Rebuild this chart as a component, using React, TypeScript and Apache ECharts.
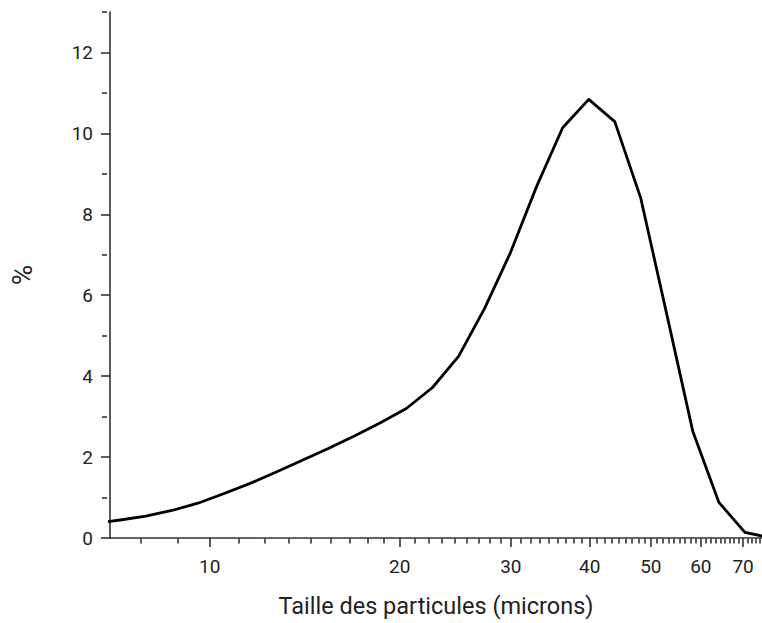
import React, { useEffect, useRef } from "react";
import * as echarts from "echarts";

// Particle size bins (microns) and volume percentage
const sizes = [6.55, 7.21, 7.92, 8.71, 9.58, 10.54, 11.59, 12.75, 14.02, 15.41, 16.95, 18.64, 20.49, 22.54, 24.79, 27.25, 29.97, 32.96, 36.24, 39.86, 43.83, 48.19, 53.0, 58.28, 64.09, 70.47, 77.5];
const percent = [0.36, 0.445, 0.54, 0.68, 0.86, 1.1, 1.35, 1.63, 1.92, 2.21, 2.52, 2.85, 3.2, 3.72, 4.49, 5.67, 7.06, 8.69, 10.14, 10.84, 10.29, 8.4, 5.52, 2.63, 0.88, 0.14, 0.0];

// Axis ticks
const xMajorTicks = [10, 20, 30, 40, 50, 60, 70];
const xMin = 6.95;
const xMax = 75;
const yMajorTicks = [0, 2, 4, 6, 8, 10, 12];
const yMinorTicks = [1, 3, 5, 7, 9, 11, 13];

const xTitle = "Taille des particules (microns)";
const yTitle = "%";

function minorX(): number[] {
  const out: number[] = [];
  const majors = [0, ...xMajorTicks, 80];
  for (let i = 0; i < majors.length - 1; i++) {
    const a = majors[i];
    const b = majors[i + 1];
    for (let k = 1; k <= 8; k++) {
      const v = a + ((b - a) * k) / 9;
      if (v > xMin && v < xMax) out.push(v);
    }
  }
  return out;
}

const W = 762;
const H = 623;
const GRID = { left: 107, right: 0, top: 12, bottom: 84.5 };

export default function App() {
  const ref = useRef<HTMLDivElement>(null);
  useEffect(() => {
    if (!ref.current) return;
    const chart = echarts.init(ref.current, undefined, { renderer: "svg" });
    const font = "Roboto, 'Noto Sans', sans-serif";
    const lg = (v: number) => Math.log10(v);
    const axisColor = "#333";
    const textColor = "#222";
    const gridW = W - GRID.left - GRID.right;
    const gridH = H - GRID.top - GRID.bottom;
    chart.setOption({
      animation: false,
      backgroundColor: "#fff",
      grid: { ...GRID, containLabel: false },
      xAxis: [
        {
          type: "value",
          min: lg(xMin),
          max: lg(xMax),
          position: "bottom",
          axisLine: { show: true, onZero: false, lineStyle: { color: axisColor, width: 1.6 } },
          axisTick: {
            show: true,
            customValues: xMajorTicks.map(lg),
            length: 9,
            lineStyle: { color: axisColor, width: 1.6 },
          },
          axisLabel: {
            show: true,
            customValues: xMajorTicks.map(lg),
            formatter: (v: number) => String(Math.round(Math.pow(10, v))),
            margin: 19,
            fontSize: 19,
            color: textColor,
            fontFamily: font,
          },
          splitLine: { show: false },
          name: xTitle,
          nameLocation: "middle",
          nameGap: 56,
          nameTextStyle: { fontSize: 23.5, color: textColor, fontFamily: font },
        },
        {
          // minor ticks: placed on top slot, moved down onto the bottom line
          type: "value",
          min: lg(xMin),
          max: lg(xMax),
          position: "top",
          offset: -gridH,
          axisLine: { show: false, onZero: false },
          axisTick: {
            show: true,
            inside: true,
            customValues: minorX().map(lg),
            length: 5,
            lineStyle: { color: axisColor, width: 1.6 },
          },
          axisLabel: { show: false },
          splitLine: { show: false },
        },
      ],
      yAxis: [
        {
          type: "value",
          min: 0,
          max: 13,
          interval: 2,
          position: "left",
          axisLine: { show: true, onZero: false, lineStyle: { color: axisColor, width: 1.6 } },
          axisTick: {
            show: true,
            customValues: yMajorTicks,
            length: 9,
            lineStyle: { color: axisColor, width: 1.6 },
          },
          axisLabel: {
            show: true,
            customValues: yMajorTicks,
            margin: 17,
            fontSize: 19,
            color: textColor,
            fontFamily: font,
          },
          splitLine: { show: false },
          name: yTitle,
          nameLocation: "middle",
          nameGap: 74,
          nameTextStyle: { fontSize: 28, color: textColor, fontFamily: font },
        },
        {
          type: "value",
          min: 0,
          max: 13,
          position: "right",
          offset: -gridW,
          axisLine: { show: false, onZero: false },
          axisTick: {
            show: true,
            inside: true,
            customValues: yMinorTicks,
            length: 5,
            lineStyle: { color: axisColor, width: 1.6 },
          },
          axisLabel: { show: false },
          splitLine: { show: false },
        },
      ],
      series: [
        {
          type: "line",
          xAxisIndex: 0,
          yAxisIndex: 0,
          data: sizes.map((s, i) => [lg(s), percent[i]]),
          showSymbol: false,
          symbol: "none",
          smooth: false,
          clip: true,
          lineStyle: { color: "#000", width: 2.8, join: "round" },
        },
      ],
    });
    return () => chart.dispose();
  }, []);
  return (
    <div
      ref={ref}
      style={{ position: "fixed", left: 0, top: 0, width: W, height: H, background: "#fff" }}
    />
  );
}
